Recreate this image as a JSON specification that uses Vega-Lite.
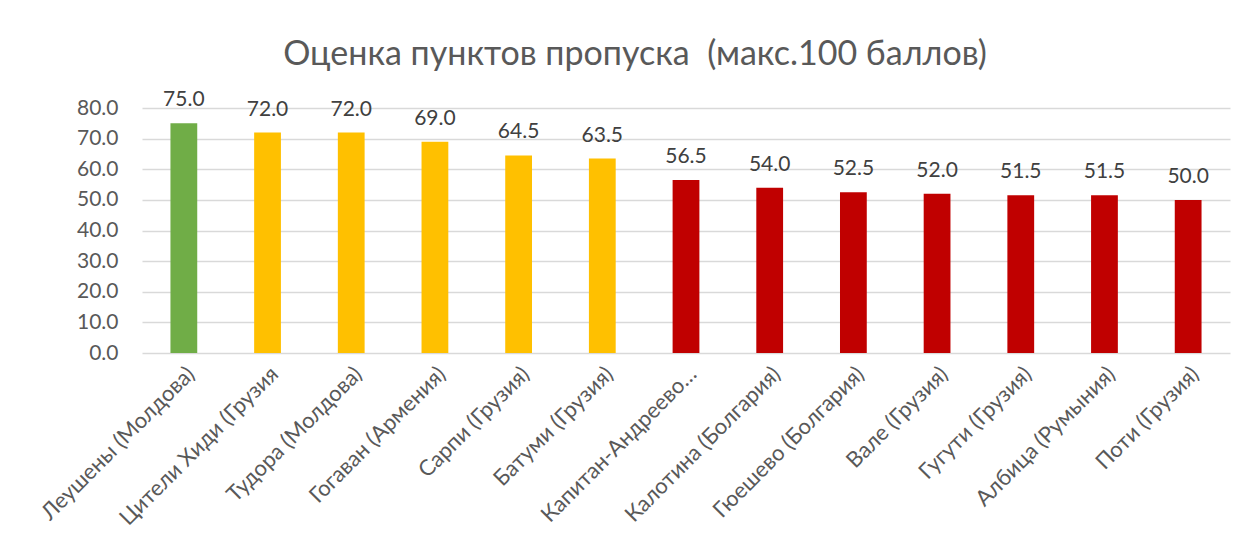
{
  "$schema": "https://vega.github.io/schema/vega-lite/v6.json",
  "autosize": {"type": "none"},
  "padding": {"left": 142, "top": 108, "right": 18, "bottom": 196},
  "width": 1088,
  "height": 245,
  "background": "white",
  "title": {
    "text": "Оценка пунктов пропуска \u00a0(макс.100 баллов)",
    "font": "Lato",
    "fontSize": 34,
    "fontWeight": "normal",
    "color": "#595959",
    "anchor": "middle",
    "dx": -51,
    "offset": 17
  },
  "data": {
    "values": [
      {"name": "Леушены (Молдова)", "score": 75.0, "group": "high"},
      {"name": "Цители Хиди (Грузия", "score": 72.0, "group": "mid"},
      {"name": "Тудора (Молдова)", "score": 72.0, "group": "mid"},
      {"name": "Гогаван (Армения)", "score": 69.0, "group": "mid"},
      {"name": "Сарпи (Грузия)", "score": 64.5, "group": "mid"},
      {"name": "Батуми (Грузия)", "score": 63.5, "group": "mid"},
      {"name": "Капитан-Андреево…", "score": 56.5, "group": "low"},
      {"name": "Калотина (Болгария)", "score": 54.0, "group": "low"},
      {"name": "Гюешево (Болгария)", "score": 52.5, "group": "low"},
      {"name": "Вале (Грузия)", "score": 52.0, "group": "low"},
      {"name": "Гугути (Грузия)", "score": 51.5, "group": "low"},
      {"name": "Албица (Румыния)", "score": 51.5, "group": "low"},
      {"name": "Поти (Грузия)", "score": 50.0, "group": "low"}
    ]
  },
  "encoding": {
    "x": {
      "field": "name",
      "type": "nominal",
      "sort": null,
      "scale": {"paddingInner": 0.68, "paddingOuter": 0.34},
      "axis": {
        "title": null,
        "domain": false,
        "ticks": false,
        "labelAngle": -45,
        "labelAlign": "right",
        "labelBaseline": "top",
        "labelPadding": 10,
        "labelFont": "Lato",
        "labelFontSize": 22,
        "labelColor": "#595959",
        "labelLimit": 400
      }
    },
    "y": {
      "field": "score",
      "type": "quantitative",
      "scale": {"domain": [0, 80], "nice": false},
      "axis": {
        "title": null,
        "values": [0, 10, 20, 30, 40, 50, 60, 70, 80],
        "format": ".1f",
        "domain": false,
        "ticks": false,
        "labelPadding": 24,
        "labelFont": "Lato",
        "labelFontSize": 21,
        "labelColor": "#595959",
        "gridColor": "#d9d9d9",
        "gridWidth": 1.5
      }
    }
  },
  "layer": [
    {
      "mark": {"type": "bar"},
      "encoding": {
        "color": {
          "field": "group",
          "type": "nominal",
          "scale": {"domain": ["high", "mid", "low"], "range": ["#70AD47", "#FFC000", "#C00000"]},
          "legend": null
        }
      }
    },
    {
      "mark": {"type": "text", "baseline": "alphabetic", "dy": -17, "font": "Lato", "fontSize": 21, "color": "#404040"},
      "encoding": {
        "text": {"field": "score", "type": "quantitative", "format": ".1f"}
      }
    }
  ],
  "config": {
    "view": {"stroke": null}
  }
}
